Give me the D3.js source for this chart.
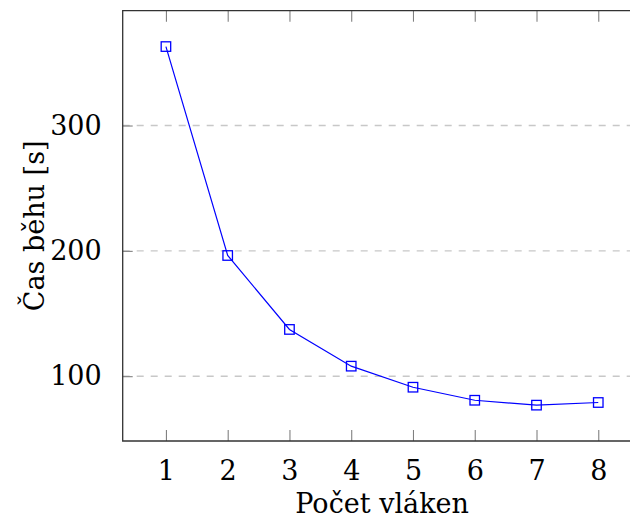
<!DOCTYPE html>
<html>
<head>
<meta charset="utf-8">
<script src="https://cdn.jsdelivr.net/npm/d3@7"></script>
<style>
  html, body { margin: 0; padding: 0; background: #fff; }
  svg { display: block; }
  svg text { font-family: "DejaVu Serif", serif; fill: #000; }
</style>
</head>
<body>
<svg id="chart" width="630" height="519"></svg>
<script>
// Runtime (s) against number of threads
const threads = [1, 2, 3, 4, 5, 6, 7, 8];
const runtime = [363, 196.3, 137.3, 108, 91.2, 80.8, 76.9, 79];
const yTicks = [100, 200, 300];
const xLabel = "Počet vláken";
const yLabel = "Čas běhu [s]";

const FONT = "'DejaVu Serif', serif";
const FS = 27;
const svg = d3.select("#chart");
const plotLeft = 122.7, plotRight = 641.5, plotTop = 10.7, plotBottom = 441;

// Axis limits widened by 10% of the data range on each side
const xMin = d3.min(threads), xMax = d3.max(threads);
const yMin = d3.min(runtime), yMax = d3.max(runtime);
const xPad = (xMax - xMin) * 0.1, yPad = (yMax - yMin) * 0.1;

const x = d3.scaleLinear().domain([xMin - xPad, xMax + xPad]).range([plotLeft, plotRight]);
const y = d3.scaleLinear().domain([yMin - yPad, yMax + yPad]).range([plotBottom, plotTop]);

// Horizontal dashed grid
svg.append("g").selectAll("line").data(yTicks).join("line")
  .attr("x1", plotLeft).attr("x2", plotRight)
  .attr("y1", d => y(d)).attr("y2", d => y(d))
  .attr("stroke", "#c8c8c8").attr("stroke-width", 1.4)
  .attr("stroke-dasharray", "7,7");

// Bottom axis with inward ticks
const xAxis = d3.axisBottom(x).tickValues(threads).tickSize(-11).tickPadding(20)
  .tickFormat(d3.format("d"));
const gx = svg.append("g").attr("transform", `translate(0,${plotBottom})`).call(xAxis);
gx.attr("font-family", FONT);
gx.select(".domain").remove();
gx.selectAll(".tick line").attr("stroke", "#808080").attr("stroke-width", 1.1);
gx.selectAll(".tick text").attr("font-size", FS).attr("dy", "0.71em");

// Top ticks mirrored inward
const xTop = d3.axisTop(x).tickValues(threads).tickSize(-11).tickFormat("");
const gxt = svg.append("g").attr("transform", `translate(0,${plotTop})`).call(xTop);
gxt.select(".domain").remove();
gxt.selectAll(".tick line").attr("stroke", "#808080").attr("stroke-width", 1.1);

// Left axis with inward ticks
const yAxis = d3.axisLeft(y).tickValues(yTicks).tickSize(-10).tickPadding(21)
  .tickFormat(d3.format("d"));
const gy = svg.append("g").attr("transform", `translate(${plotLeft},0)`).call(yAxis);
gy.attr("font-family", FONT);
gy.select(".domain").remove();
gy.selectAll(".tick line").attr("stroke", "#808080").attr("stroke-width", 1.1);
gy.selectAll(".tick text").attr("font-size", FS);

// Frame (right side falls outside the canvas)
svg.append("path")
  .attr("d", `M${plotRight},${plotTop}H${plotLeft}V${plotBottom}H${plotRight}`)
  .attr("fill", "none").attr("stroke", "#333").attr("stroke-width", 1.3);

// Data line
const line = d3.line().x((d, i) => x(threads[i])).y(d => y(d));
svg.append("path").datum(runtime)
  .attr("d", line)
  .attr("fill", "none").attr("stroke", "#0000ff").attr("stroke-width", 1.2);

// Square markers
const s = 9.5;
svg.append("g").selectAll("rect").data(runtime).join("rect")
  .attr("x", (d, i) => x(threads[i]) - s / 2)
  .attr("y", d => y(d) - s / 2)
  .attr("width", s).attr("height", s)
  .attr("fill", "none").attr("stroke", "#0000ff").attr("stroke-width", 1.3);

// Axis titles
svg.append("text")
  .attr("x", (plotLeft + plotRight) / 2).attr("y", 513)
  .attr("text-anchor", "middle").attr("font-size", FS)
  .attr("font-family", FONT)
  .text(xLabel);

svg.append("text")
  .attr("transform", `translate(44,${(plotTop + plotBottom) / 2}) rotate(-90)`)
  .attr("text-anchor", "middle").attr("font-size", FS)
  .attr("font-family", FONT)
  .text(yLabel);
</script>
</body>
</html>
